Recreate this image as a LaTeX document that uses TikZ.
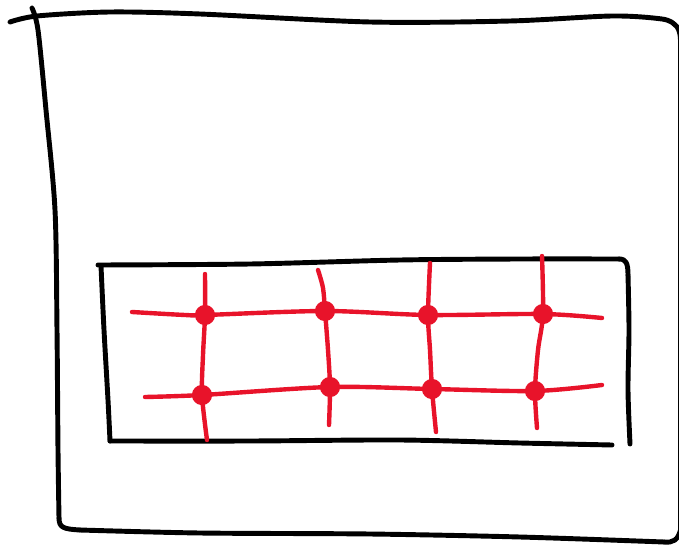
\documentclass[tikz,border=0pt]{standalone}
\definecolor{ink}{RGB}{0,0,0}
\definecolor{redink}{RGB}{232,19,42}
\begin{document}
\begin{tikzpicture}[x=0.02cm,y=-0.02cm,
  blackline/.style={draw=ink,line width=2.8pt,line cap=round,line join=round},
  redline/.style={draw=redink,line width=2.5pt,line cap=round,line join=round},
  dot/.style={circle,fill=redink,inner sep=0pt,minimum size=11.5pt}]
\useasboundingbox (0,0) rectangle (679,547);
\begin{scope}
\clip (0,0) rectangle (679,547);
% outer frame
\draw[blackline] plot[smooth,tension=0.5] coordinates {(10,22) (37,16) (110,12) (200,14) (370,22) (510,21) (612,16) (662,19) (674,24)};
\draw[blackline] (674,24) .. controls (678,27) and (680,30) .. (680.5,40);
\draw[blackline] (680.5,40) -- (680.5,530);
\draw[blackline] plot[smooth,tension=0.5] coordinates {(32,8) (38,30) (46,110) (55,210) (57,330) (58,450) (59,518)};
\draw[blackline] (59,518) .. controls (59,528) and (64,529) .. (80,530);
\draw[blackline] plot[smooth,tension=0.5] coordinates {(80,530) (200,533) (370,534) (520,537) (664,542)};
\draw[blackline] (664,542) .. controls (673,543) and (678,540) .. (680.5,530);
\end{scope}
% inner frame
\draw[blackline] plot[smooth,tension=0.5] coordinates {(98,265) (250,264) (400,260) (519,259) (619,259)};
\draw[blackline] (619,259) .. controls (626,259) and (628,263) .. (628,275);
\draw[blackline] plot[smooth,tension=0.5] coordinates {(628,275) (629,330) (628,390) (630,444)};
\draw[blackline] plot[smooth,tension=0.5] coordinates {(101,266) (104,330) (108,400) (110,441)};
\draw[blackline] plot[smooth,tension=0.5] coordinates {(110,441) (250,441) (400,440) (520,443) (612,445)};
% grid points
\coordinate (p11) at (205,315);
\coordinate (p12) at (325,311);
\coordinate (p13) at (428,315);
\coordinate (p14) at (543,314);
\coordinate (p21) at (202,395);
\coordinate (p22) at (330,387);
\coordinate (p23) at (432,389);
\coordinate (p24) at (535,391);
% red grid lines
\draw[redline] plot[smooth,tension=0.5] coordinates {(132,312) (185,315) (p11) (p12) (p13) (p14) (602,318)};
\draw[redline] plot[smooth,tension=0.5] coordinates {(145,397) (p21) (p22) (p23) (p24) (602,385)};
\draw[redline] plot[smooth,tension=0.5] coordinates {(205,274) (p11) (203,355) (p21) (207,440)};
\draw[redline] plot[smooth,tension=0.5] coordinates {(318,270) (323,288) (p12) (328,350) (p22) (329,425)};
\draw[redline] plot[smooth,tension=0.5] coordinates {(430,263) (p13) (430,350) (p23) (436,432)};
\draw[redline] plot[smooth,tension=0.5] coordinates {(542,256) (p14) (538,350) (p24) (537,428)};
% dots
\foreach \p in {p11,p12,p13,p14,p21,p22,p23,p24} \node[dot] (d\p) at (\p) {};
\end{tikzpicture}
\end{document}
